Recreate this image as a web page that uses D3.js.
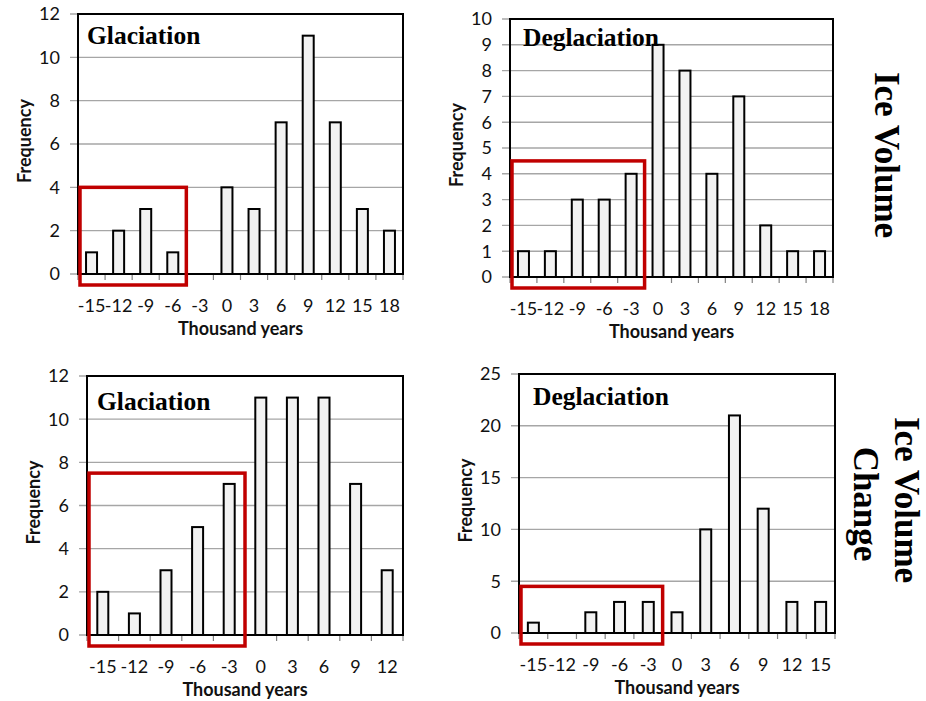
<!DOCTYPE html>
<html><head><meta charset="utf-8">
<script src="https://cdn.jsdelivr.net/npm/d3@7"></script>
<style>
body{margin:0;background:#fff;}
svg{display:block;}
</style></head>
<body>
<svg id="chart" width="926" height="701"></svg>
<script>
// ---- data ----
const catsTop = [-15,-12,-9,-6,-3,0,3,6,9,12,15,18];
const catsBottomLeft = [-15,-12,-9,-6,-3,0,3,6,9,12];
const catsBottomRight = [-15,-12,-9,-6,-3,0,3,6,9,12,15];
const volGlaciation = [1,2,3,1,0,4,3,7,11,7,3,2];
const volDeglaciation = [1,1,3,3,4,9,8,4,7,2,1,1];
const chgGlaciation = [2,1,3,5,7,11,11,11,7,3];
const chgDeglaciation = [1,0,2,3,3,2,10,21,12,3,3];
const yTicksA = [0,2,4,6,8,10,12];
const yTicksB = [0,1,2,3,4,5,6,7,8,9,10];
const yTicksC = [0,2,4,6,8,10,12];
const yTicksD = [0,5,10,15,20,25];
const panelTitles = ["Glaciation","Deglaciation","Glaciation","Deglaciation"];
// highlighted range: number of leading categories, and top value of the red box
const boxCounts = [4,5,5,5];
const boxTops = [4,4.5,7.5,4.5];
const rowLabels = [["Ice Volume"],["Ice Volume","Change"]];
const xTitle = "Thousand years";
const yTitle = "Frequency";

const svg = d3.select("#chart");
const sansFont = "Lato, 'Open Sans', sans-serif";
const serifFont = "'Liberation Serif', 'DejaVu Serif', serif";

function panel(o){
  const g = svg.append("g");
  const w = o.right - o.left;
  const step = w / o.cats.length;
  const pad = 1 - 11/step;
  const x = d3.scaleBand().domain(o.cats).range([o.left,o.right]).paddingInner(pad).paddingOuter(pad/2);
  const y = d3.scaleLinear().domain([0, o.ticks[o.ticks.length-1]]).range([o.bottom,o.top]);

  // grid lines + y tick marks
  g.selectAll("line.grid").data(o.ticks).join("line")
    .attr("x1", o.left-8).attr("x2", o.right)
    .attr("y1", d=>y(d)).attr("y2", d=>y(d))
    .attr("stroke","#a6a6a6").attr("stroke-width",1.4);
  // y tick labels
  g.selectAll("text.yt").data(o.ticks).join("text")
    .attr("x", o.left-18).attr("y", d=>y(d)).attr("dy","0.36em")
    .attr("text-anchor","end").attr("font-family",sansFont).attr("font-size",18)
    .attr("fill","#111").text(d=>d);
  // x tick marks at category boundaries
  const bounds = d3.range(o.cats.length+1).map(i=>o.left+i*step);
  g.selectAll("line.xt").data(bounds).join("line")
    .attr("x1",d=>d).attr("x2",d=>d).attr("y1",o.bottom).attr("y2",o.bottom+6)
    .attr("stroke","#808080").attr("stroke-width",1.2);
  // bars
  g.selectAll("rect.bar").data(o.vals.map((v,i)=>({c:o.cats[i],v}))).join("rect")
    .attr("x",d=>x(d.c)).attr("width",x.bandwidth())
    .attr("y",d=>y(d.v)).attr("height",d=>o.bottom-y(d.v))
    .attr("fill","#f2f2f2").attr("stroke","#000").attr("stroke-width",2)
    .attr("display",d=>d.v>0?null:"none");
  // plot border
  g.append("rect").attr("x",o.left).attr("y",o.top).attr("width",w).attr("height",o.bottom-o.top)
    .attr("fill","none").attr("stroke","#000").attr("stroke-width",2);
  // x tick labels
  g.selectAll("text.xl").data(o.cats).join("text")
    .attr("x",d=>x(d)+x.bandwidth()/2).attr("y",o.bottom+32).attr("dy","0.36em")
    .attr("text-anchor","middle").attr("font-family",sansFont).attr("font-size",18)
    .attr("fill","#111").text(d=>d);
  // axis titles
  g.append("text").attr("x",(o.left+o.right)/2).attr("y",o.bottom+55).attr("dy","0.36em")
    .attr("text-anchor","middle").attr("font-family",sansFont).attr("font-weight","bold")
    .attr("font-size",18).attr("fill","#111").text(xTitle);
  g.append("text").attr("transform",`translate(${o.left-53},${(o.top+o.bottom)/2 - 3}) rotate(-90)`)
    .attr("dy","0.36em").attr("text-anchor","middle").attr("font-family",sansFont)
    .attr("font-weight","bold").attr("font-size",18).attr("fill","#111").text(yTitle);
  // red box
  const bx0 = o.left + 2, bx1 = o.left + o.boxN*step;
  g.append("rect").attr("x",bx0).attr("y",y(o.boxTop)).attr("width",bx1-bx0)
    .attr("height",o.bottom+11-y(o.boxTop))
    .attr("fill","none").attr("stroke","#c00000").attr("stroke-width",3.5);
  // panel title
  g.append("text").attr("x",o.left+o.tx).attr("y",o.top+o.ty)
    .attr("font-family",serifFont).attr("font-weight","bold").attr("font-size",25.5)
    .attr("fill","#000").text(o.title);
}

panel({left:78,right:403,top:14,bottom:274,cats:catsTop,vals:volGlaciation,ticks:yTicksA,
  title:panelTitles[0],tx:9,ty:30,boxN:boxCounts[0],boxTop:boxTops[0]});
panel({left:510,right:833,top:19,bottom:277,cats:catsTop,vals:volDeglaciation,ticks:yTicksB,
  title:panelTitles[1],tx:13,ty:27,boxN:boxCounts[1],boxTop:boxTops[1]});
panel({left:87,right:403,top:376,bottom:635,cats:catsBottomLeft,vals:chgGlaciation,ticks:yTicksC,
  title:panelTitles[2],tx:10,ty:34,boxN:boxCounts[2],boxTop:boxTops[2]});
panel({left:519,right:835,top:374,bottom:633,cats:catsBottomRight,vals:chgDeglaciation,ticks:yTicksD,
  title:panelTitles[3],tx:14,ty:31,boxN:boxCounts[3],boxTop:boxTops[3]});

// row labels (rotated, reading top to bottom)
function rowLabel(txt, cx, cy){
  svg.append("text").attr("transform",`translate(${cx},${cy}) rotate(90)`)
    .attr("text-anchor","middle").attr("dy","0.35em")
    .attr("font-family",serifFont).attr("font-weight","bold").attr("font-size",35).attr("fill","#000")
    .text(txt);
}
rowLabel(rowLabels[0][0], 887, 155);
rowLabel(rowLabels[1][0], 907, 500);
rowLabel(rowLabels[1][1], 866, 504);
</script>
</body></html>
